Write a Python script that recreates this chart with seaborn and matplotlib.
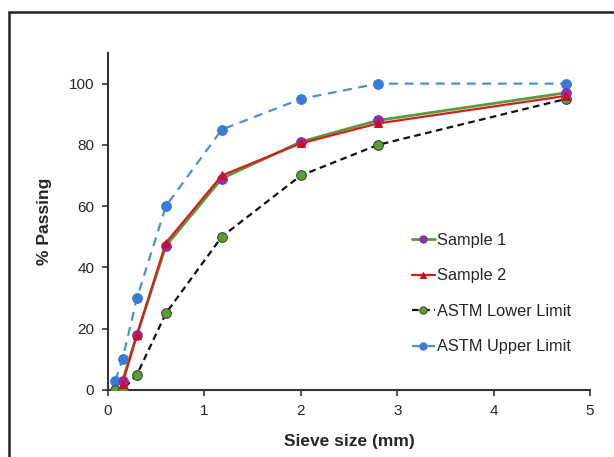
#!/usr/bin/env python3
"""Particle size distribution: samples vs ASTM limits."""

import matplotlib.pyplot as plt
import seaborn as sns
from matplotlib.patches import Rectangle

# sieve sizes (mm)
sieve = [0.075, 0.15, 0.3, 0.6, 1.18, 2.0, 2.8, 4.75]
sample_sieve = [0.15, 0.3, 0.6, 1.18, 2.0, 2.8, 4.75]

sample1 = [3, 18, 47, 69, 81, 88, 97]
sample2 = [2, 18, 48, 70, 80.5, 87, 96]
astm_lower = [0, 0, 5, 25, 50, 70, 80, 95]
astm_upper = [3, 10, 30, 60, 85, 95, 100, 100]


def main():
    sns.set_style("white")
    plt.rcParams["font.family"] = ["Liberation Sans", "DejaVu Sans"]

    fig = plt.figure(figsize=(6.14, 4.57), dpi=100)
    ax = fig.add_axes([0.176, 0.147, 0.785, 0.737])

    # outer frame like the pasted figure border
    fig.patches.append(Rectangle((9 / 614, -0.1), 1.2, 1.1 - 12 / 457,
                                 transform=fig.transFigure, fill=False,
                                 edgecolor="#222222", linewidth=1.8))

    sns.lineplot(x=sieve, y=astm_upper, ax=ax, color="#4a90d9", linestyle=(0, (4, 3)),
                 linewidth=1.6, marker="o", markersize=7, markeredgecolor="#3a7bd5",
                 markerfacecolor="#3a7bd5", label="ASTM Upper Limit", zorder=2)
    sns.lineplot(x=sieve, y=astm_lower, ax=ax, color="#111111", linestyle=(0, (3, 2)),
                 linewidth=1.6, marker="o", markersize=7, markeredgecolor="#2f4f1f",
                 markerfacecolor="#5f9a3c", label="ASTM Lower Limit", zorder=3)
    sns.lineplot(x=sample_sieve, y=sample1, ax=ax, color="#5a9a3a", linewidth=2.0,
                 marker="o", markersize=7, markeredgecolor="#8e2fa6",
                 markerfacecolor="#8e2fa6", label="Sample 1", zorder=4)
    sns.lineplot(x=sample_sieve, y=sample2, ax=ax, color="#d41f1f", linewidth=1.6,
                 marker="^", markersize=6, markeredgecolor="#c8102e",
                 markerfacecolor="#c8102e", label="Sample 2", zorder=5)

    ax.set_xlim(0, 5)
    ax.set_ylim(0, 110)
    ax.set_xticks([0, 1, 2, 3, 4, 5])
    ax.set_yticks([0, 20, 40, 60, 80, 100])
    sns.despine(ax=ax)
    for s in ("left", "bottom"):
        ax.spines[s].set_color("#333333")
        ax.spines[s].set_linewidth(1.5)
    ax.tick_params(axis="both", direction="out", length=4, width=1.2,
                   color="#333333", labelsize=11, pad=6)
    ax.tick_params(left=True, bottom=True)

    ax.set_xlabel("Sieve size (mm)", fontsize=12.5, fontweight="bold", labelpad=12)
    ax.set_ylabel("% Passing", fontsize=12.5, fontweight="bold", labelpad=12)

    handles, labels = ax.get_legend_handles_labels()
    order = ["Sample 1", "Sample 2", "ASTM Lower Limit", "ASTM Upper Limit"]
    hmap = dict(zip(labels, handles))
    ax.legend([hmap[k] for k in order], order, loc="upper left",
              bbox_to_anchor=(0.6, 0.51), frameon=False, fontsize=11.8,
              labelspacing=1.25, handlelength=1.4, handletextpad=0.1,
              markerscale=0.75)

    fig.savefig("out.png", dpi=100)


if __name__ == "__main__":
    main()
